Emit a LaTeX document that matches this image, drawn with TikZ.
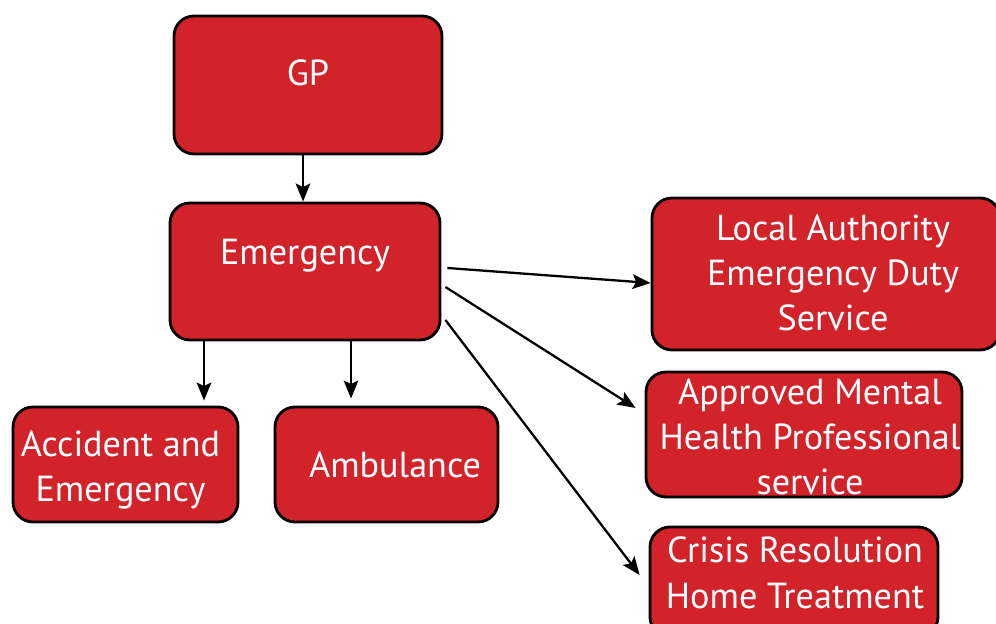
\documentclass[tikz,border=0pt]{standalone}
\usepackage{fontspec}
\setmainfont{PT Sans}
\usetikzlibrary{shapes}
\usetikzlibrary{arrows.meta}

\definecolor{boxred}{RGB}{210,35,43}

\tikzset{
  box/.style={draw=black, line width=1.6pt, fill=boxred, rounded corners=0.4cm},
  boxtext/.style={text=white, align=center, font=\fontsize{20.6}{25.8}\selectfont},
  link/.style={-{Stealth[length=0.36cm, width=0.29cm, inset=0.07cm]}, line width=1.3pt}
}

\begin{document}
\begin{tikzpicture}
    \useasboundingbox (0,0) rectangle (19.92,12.48);

    \node[box, minimum width=5.36cm, minimum height=2.76cm,
      label={[boxtext, yshift=0.24cm]center:GP}] (gp) at (6.16,10.78) {};
    \node[box, minimum width=5.4cm, minimum height=2.74cm,
      label={[boxtext, yshift=0.31cm]center:Emergency}] (emer) at (6.1,7.05) {};

    \node[box, minimum width=4.5cm, minimum height=2.3cm,
      label={[boxtext, xshift=-0.1cm, yshift=-0.11cm]center:Accident and\\Emergency}] (ae) at (2.51,3.19) {};
    \node[box, minimum width=4.46cm, minimum height=2.3cm,
      label={[boxtext, xshift=0.17cm]center:Ambulance}] (amb) at (7.73,3.19) {};

    \node[box, minimum width=6.96cm, minimum height=3.04cm,
      label={[boxtext, xshift=0.14cm, yshift=0.02cm]center:Local Authority\\Emergency Duty\\Service}] (edt) at (16.52,7.0) {};
    \node[box, minimum width=6.32cm, minimum height=2.5cm,
      label={[boxtext, xshift=0.12cm, yshift=-0.05cm]center:Approved Mental\\Health Professional\\service}] (amhp) at (16.08,3.79) {};
    \node[box, minimum width=5.76cm, minimum height=2.2cm,
      label={[boxtext, xshift=0.02cm, yshift=0.18cm]center:Crisis Resolution\\Home Treatment}] (crht) at (15.88,0.84) {};

    % downward links
    \draw[link] ([xshift=-0.1cm]gp.south) -- ([xshift=-0.1cm]gp.south |- emer.north);
    \draw[link,shorten >=0.1cm] ([xshift=-2.02cm]emer.south) -- ([xshift=-2.02cm]emer.south |- ae.north);
    \draw[link,shorten >=0.14cm] ([xshift=0.92cm]emer.south) -- ([xshift=0.92cm]emer.south |- amb.north);

    % links out to the right
    \draw[link] ([xshift=0.12cm,yshift=0.07cm]emer.east) -- ([yshift=-0.18cm]edt.west);
    \draw[link] ([xshift=0.08cm,yshift=-0.31cm]emer.east) -- ([xshift=-0.18cm,yshift=0.53cm]amhp.west);
    \draw[link] ([xshift=0.08cm,yshift=-0.97cm]emer.east) -- ([xshift=-0.18cm,yshift=0.14cm]crht.west);
\end{tikzpicture}
\end{document}
